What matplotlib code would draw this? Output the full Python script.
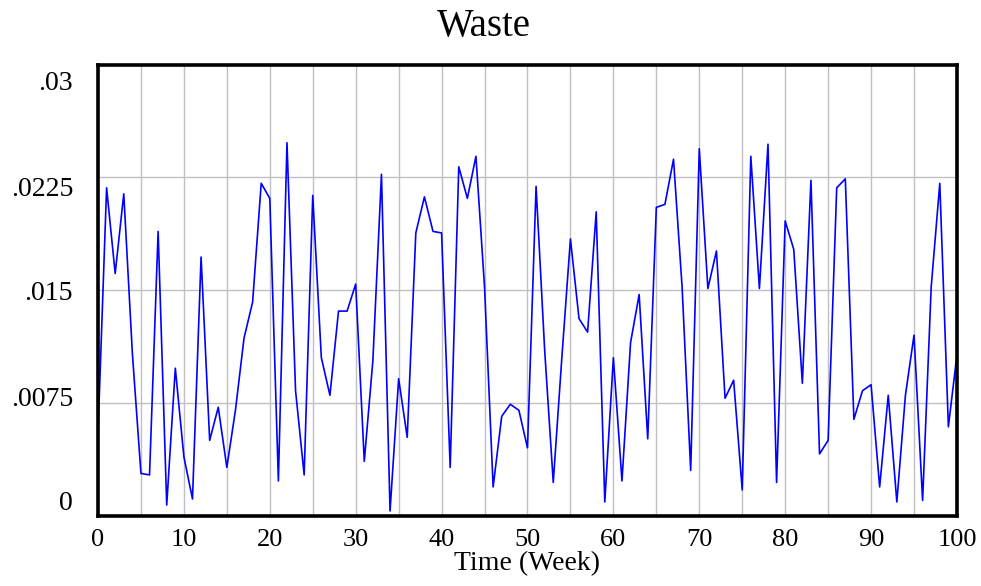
import matplotlib
matplotlib.use("Agg")
import matplotlib.pyplot as plt
import matplotlib.transforms as mtransforms
import numpy as np

# Waste per week
weeks = np.arange(0, 101)
waste = [
    0.0055, 0.0218, 0.0161, 0.0214, 0.0108, 0.0028, 0.0027, 0.0189, 0.0007, 0.0098,
    0.0039, 0.0011, 0.0172, 0.0050, 0.0072, 0.0032, 0.0070, 0.0118, 0.0142, 0.0221,
    0.0211, 0.0023, 0.0248, 0.0083, 0.0027, 0.0213, 0.0105, 0.0080, 0.0136, 0.0136,
    0.0154, 0.0036, 0.0103, 0.0227, 0.0003, 0.0091, 0.0052, 0.0188, 0.0212, 0.0189,
    0.0188, 0.0032, 0.0232, 0.0211, 0.0239, 0.0152, 0.0019, 0.0066, 0.0074, 0.0070,
    0.0045, 0.0219, 0.0110, 0.0022, 0.0105, 0.0184, 0.0131, 0.0122, 0.0202, 0.0009,
    0.0105, 0.0023, 0.0115, 0.0147, 0.0051, 0.0205, 0.0207, 0.0237, 0.0152, 0.0030,
    0.0244, 0.0151, 0.0176, 0.0078, 0.0090, 0.0017, 0.0239, 0.0151, 0.0247, 0.0022,
    0.0196, 0.0177, 0.0088, 0.0223, 0.0041, 0.0050, 0.0218, 0.0224, 0.0064, 0.0083,
    0.0087, 0.0019, 0.0080, 0.0009, 0.0080, 0.0120, 0.0010, 0.0152, 0.0221, 0.0059,
    0.0107,
]

y_ticks = [0, 0.0075, 0.015, 0.0225, 0.03]
y_labels = ["0", ".0075", ".015", ".0225", ".03"]
x_ticks = np.arange(0, 101, 10)

plt.rcParams['font.family'] = ['Liberation Serif', 'DejaVu Serif']

fig = plt.figure(figsize=(9.81, 5.86), dpi=100)
ax = fig.add_axes([0.0999, 0.1203, 0.8756, 0.7695])

ax.plot(weeks, waste, color="#0000ff", linewidth=1.2, zorder=3)

ax.set_xlim(0, 100)
ax.set_ylim(0, 0.03)
ax.set_xticks(x_ticks)
ax.set_xticks(np.arange(0, 101, 5), minor=True)
ax.set_yticks(y_ticks)
ax.set_yticklabels(y_labels)
ax.tick_params(axis="x", which="both", length=0, pad=10, labelsize=19)
ax.tick_params(axis="y", length=0, pad=18, labelsize=20)

# vensim-style labels sit a bit squeezed toward the middle
shifts = [15, 6, 0, -9, -16]
for lab, dy in zip(ax.get_yticklabels(), shifts):
    lab.set_transform(lab.get_transform() +
                      mtransforms.ScaledTranslation(0, dy / 100, fig.dpi_scale_trans))

ax.grid(True, which="both", axis="x", color="#c0c0c0", linewidth=1.0)
ax.grid(True, axis="y", color="#c0c0c0", linewidth=1.0)

for s in ax.spines.values():
    s.set_linewidth(2.6)
    s.set_color("black")
    s.set_zorder(4)

# title is centred on the whole window, not the plot box
fig.text(0.4934, 0.954, "Waste", fontsize=28, ha="center", va="center")
ax.set_xlabel("Time (Week)", fontsize=20, labelpad=0)

fig.savefig("out.png", dpi=100)
